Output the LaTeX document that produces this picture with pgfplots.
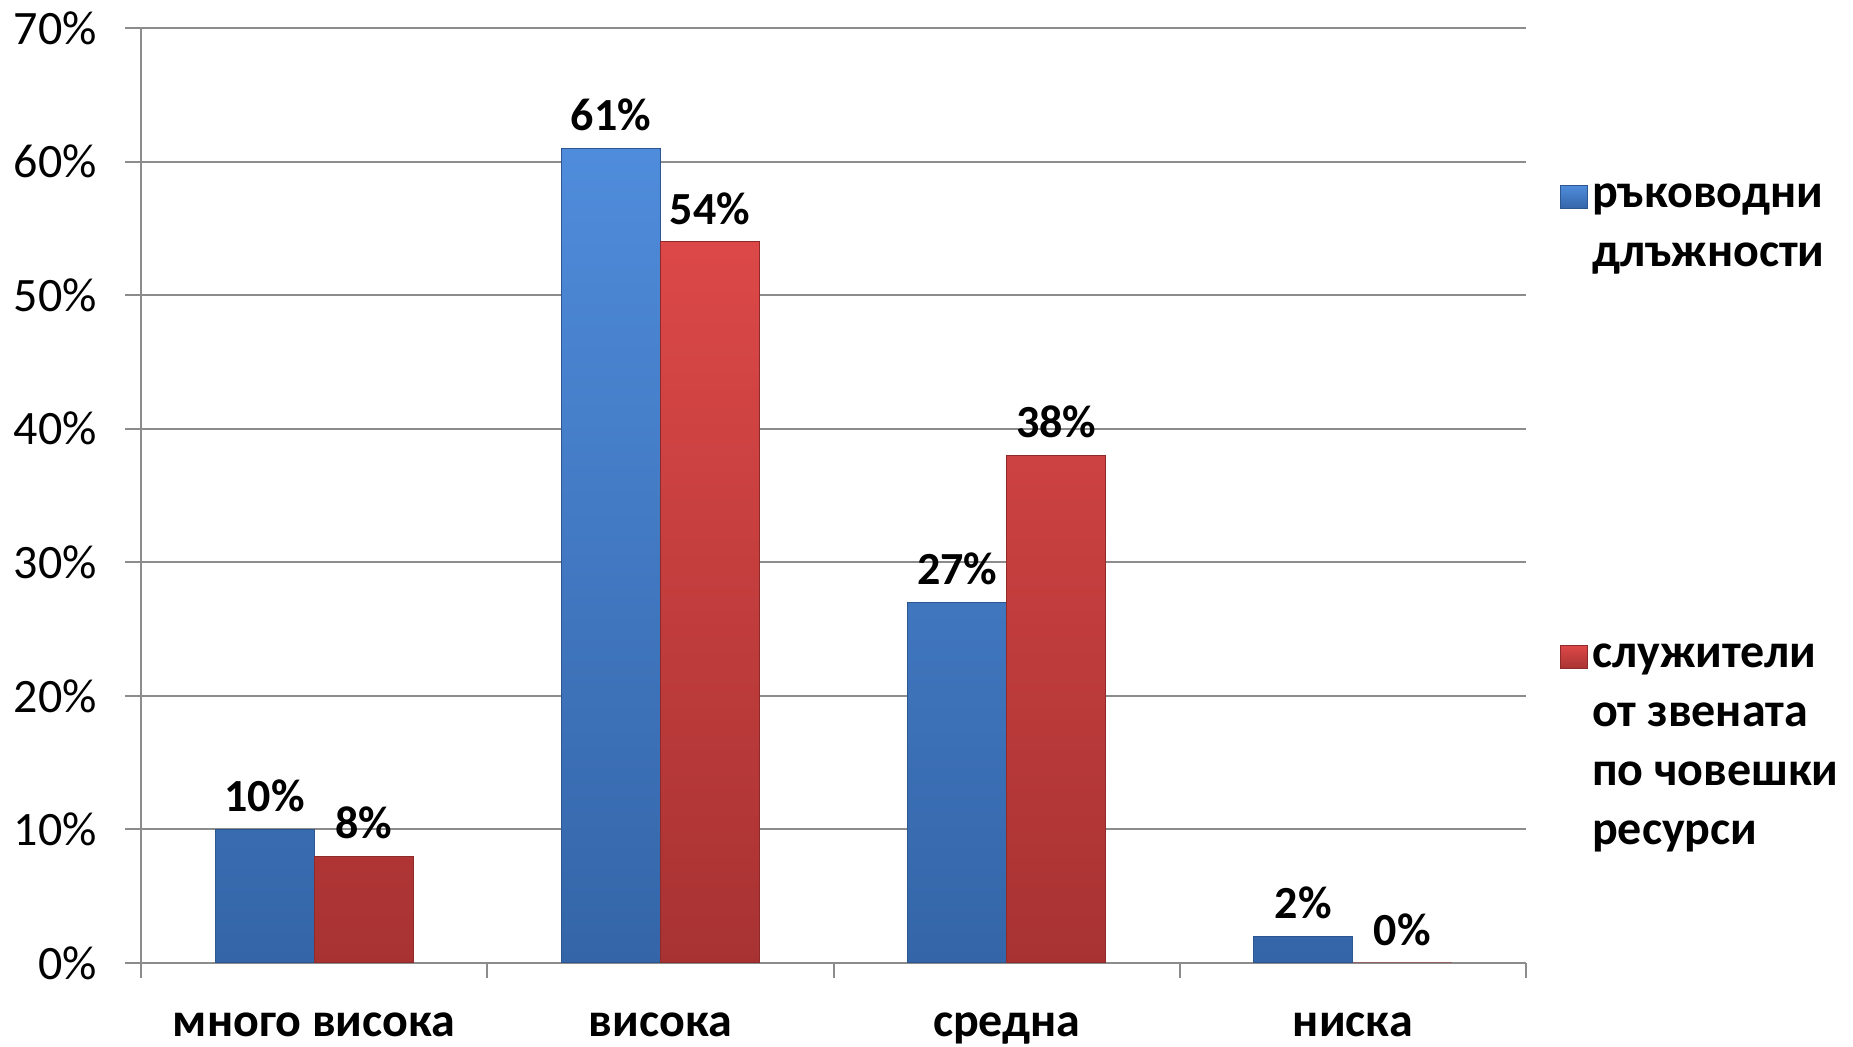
\documentclass[border=0pt]{standalone}
\usepackage{fontspec}
\setmainfont{Carlito}
\usepackage{pgfplots}
\pgfplotsset{compat=1.18}

\definecolor{blueT}{HTML}{4F8CDB}
\definecolor{blueB}{HTML}{3465A8}
\definecolor{redT}{HTML}{DC4848}
\definecolor{redB}{HTML}{A83232}
\definecolor{gridc}{HTML}{8C8C8C}

\begin{document}
\begin{tikzpicture}
\begin{axis}[
  scale only axis,
  width=692.5pt, height=467.5pt,
  ybar=0pt, bar width=49.5pt,
  xmin=-0.5, xmax=3.5, ymin=0, ymax=70,
  axis x line*=bottom, axis y line*=left,
  axis line style={draw=gridc, line width=1pt},
  xtick={0,1,2,3},
  xticklabels={много висока, висока, средна, ниска},
  minor xtick={-0.5,0.5,1.5,2.5,3.5},
  major x tick style={draw=none},
  minor x tick style={draw=gridc, line width=1pt},
  y tick style={draw=gridc, line width=1pt},
  tick align=outside,
  major tick length=8pt, minor tick length=7.5pt,
  ytick={0,10,...,70},
  yticklabels={0\%,10\%,20\%,30\%,40\%,50\%,60\%,70\%},
  ymajorgrids, grid style={draw=gridc, line width=1pt},
  yticklabel style={font=\fontsize{24}{29}\selectfont, inner ysep=0pt, xshift=-10.5pt},
  xticklabel style={font=\bfseries\fontsize{24}{29}\selectfont, inner sep=0pt, yshift=-16.5pt},
  nodes near coords={\pgfmathprintnumber{\pgfplotspointmeta}\%},
  nodes near coords style={font=\bfseries\fontsize{23}{28}\selectfont, yshift=5pt},
  /pgf/number format/assume math mode=true,
  legend image code/.code={\draw[#1] (0pt,-0.5pt) rectangle (13.5pt,11pt);},
  legend style={at={(rel axis cs:1.02,0.861)}, anchor=north west,
    draw=none, fill=none, row sep=204pt,
    font=\bfseries\fontsize{24}{29.5}\selectfont,
    cells={anchor=base west}},
]
\addplot[draw=blueB!85!black, line width=0.5pt, top color=blueT, bottom color=blueB]
  coordinates {(0,10) (1,61) (2,27) (3,2)};
\addlegendentry{\begin{tabular}[t]{@{}l@{}}ръководни\\длъжности\end{tabular}}
\addplot[draw=redB!85!black, line width=0.5pt, top color=redT, bottom color=redB]
  coordinates {(0,8) (1,54) (2,38) (3,0)};
\addlegendentry{\begin{tabular}[t]{@{}l@{}}служители\\от звената\\по човешки\\ресурси\end{tabular}}
\end{axis}
\path (-70.5pt,-42pt) rectangle (856pt,481.5pt);
\end{tikzpicture}
\end{document}
